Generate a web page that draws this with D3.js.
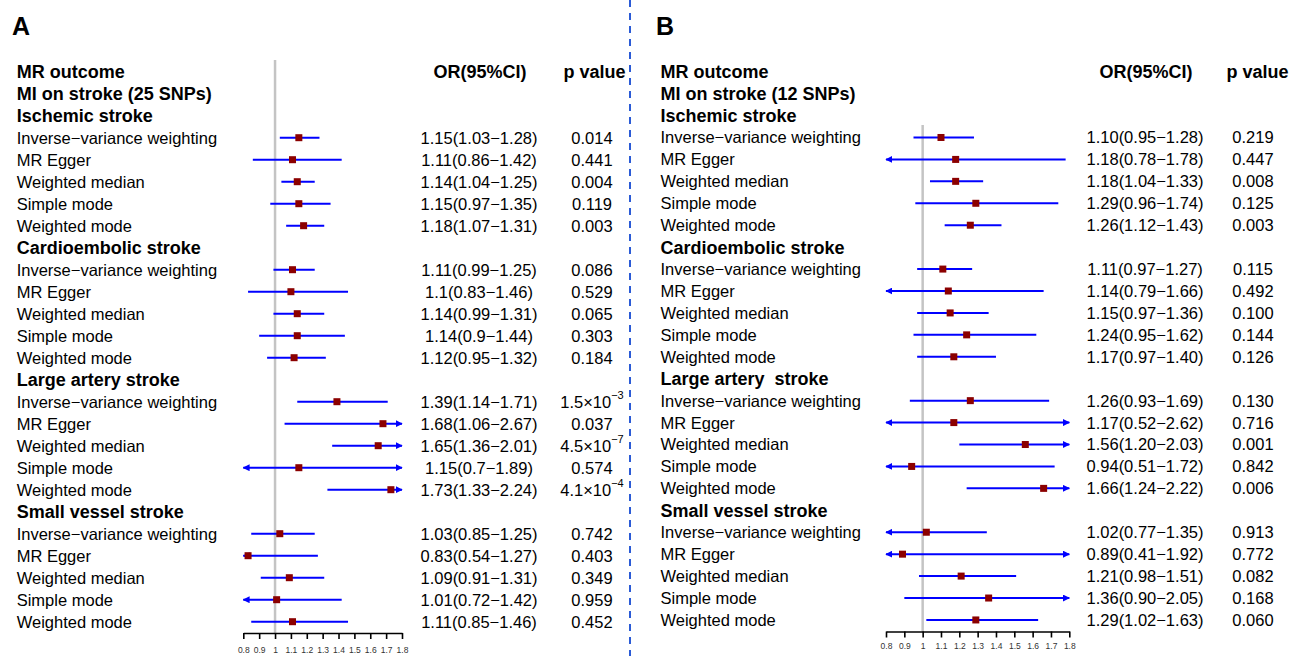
<!DOCTYPE html>
<html><head><meta charset="utf-8">
<script src="https://cdn.jsdelivr.net/npm/d3@7/dist/d3.min.js"></script>
<style>body{margin:0;background:#fff}svg{display:block}text{font-family:"Liberation Sans",Arial,sans-serif}</style>
</head><body><svg id="c" width="1295" height="656"></svg>
<script>
// ---------- data ----------
const methods = ["Inverse\u2212variance weighting","MR Egger","Weighted median","Simple mode","Weighted mode"];
const groupsA = ["Ischemic stroke","Cardioembolic stroke","Large artery stroke","Small vessel stroke"];
const groupsB = ["Ischemic stroke","Cardioembolic stroke","Large artery  stroke","Small vessel stroke"];
const tickValues = [0.8,0.9,1,1.1,1.2,1.3,1.4,1.5,1.6,1.7,1.8];
const tickLabels = ["0.8","0.9","1","1.1","1.2","1.3","1.4","1.5","1.6","1.7","1.8"];

const orA  = [1.15,1.11,1.14,1.15,1.18, 1.11,1.1,1.14,1.14,1.12, 1.39,1.68,1.65,1.15,1.73, 1.03,0.83,1.09,1.01,1.11];
const lowA = [1.03,0.86,1.04,0.97,1.07, 0.99,0.83,0.99,0.9,0.95, 1.14,1.06,1.36,0.7,1.33, 0.85,0.54,0.91,0.72,0.85];
const highA= [1.28,1.42,1.25,1.35,1.31, 1.25,1.46,1.31,1.44,1.32, 1.71,2.67,2.01,1.89,2.24, 1.25,1.27,1.31,1.42,1.46];
const pA   = ["0.014","0.441","0.004","0.119","0.003", "0.086","0.529","0.065","0.303","0.184",
              "1.5×10^−3","0.037","4.5×10^−7","0.574","4.1×10^−4", "0.742","0.403","0.349","0.959","0.452"];

const orB  = [1.10,1.18,1.18,1.29,1.26, 1.11,1.14,1.15,1.24,1.17, 1.26,1.17,1.56,0.94,1.66, 1.02,0.89,1.21,1.36,1.29];
const lowB = [0.95,0.78,1.04,0.96,1.12, 0.97,0.79,0.97,0.95,0.97, 0.93,0.52,1.20,0.51,1.24, 0.77,0.41,0.98,0.90,1.02];
const highB= [1.28,1.78,1.33,1.74,1.43, 1.27,1.66,1.36,1.62,1.40, 1.69,2.62,2.03,1.72,2.22, 1.35,1.92,1.51,2.05,1.63];
const pB   = ["0.219","0.447","0.008","0.125","0.003", "0.115","0.492","0.100","0.144","0.126",
              "0.130","0.716","0.001","0.842","0.006", "0.913","0.772","0.082","0.168","0.060"];

// ---------- drawing ----------
const svg = d3.select("#c");
svg.append("rect").attr("width",1295).attr("height",656).attr("fill","#fff");

const defs = svg.append("defs");
defs.append("marker").attr("id","arr").attr("viewBox","0 0 10 10").attr("refX",9).attr("refY",5)
  .attr("markerWidth",7).attr("markerHeight",7).attr("markerUnits","userSpaceOnUse").attr("orient","auto-start-reverse")
  .append("path").attr("d","M0,0 L10,5 L0,10 Z").attr("fill","#0000ff");

// divider
svg.append("line").attr("x1",630).attr("x2",630).attr("y1",0).attr("y2",656)
  .attr("stroke","#2b5bd6").attr("stroke-width",2).attr("stroke-dasharray","7,6");

function panel(cfg){
  const g = svg.append("g");
  const x = d3.scaleLinear().domain([0.8,1.8]).range(cfg.range);
  const yRow = i => cfg.y0 + i*cfg.step;
  const F = 16.5, FB = 18;
  // letter
  g.append("text").attr("x",cfg.letterX).attr("y",35).attr("font-size",25).attr("font-weight","bold").text(cfg.letter);
  // headers
  g.append("text").attr("x",cfg.labelX).attr("y",yRow(0)).attr("dy","0.36em").attr("font-size",FB).attr("font-weight","bold").text("MR outcome");
  g.append("text").attr("x",cfg.labelX).attr("y",yRow(1)).attr("dy","0.36em").attr("font-size",FB).attr("font-weight","bold").text(cfg.title);
  g.append("text").attr("x",cfg.orX+1).attr("y",yRow(0)).attr("dy","0.36em").attr("font-size",FB).attr("font-weight","bold").attr("text-anchor","middle").text("OR(95%CI)");
  g.append("text").attr("x",cfg.pHX).attr("y",yRow(0)).attr("dy","0.36em").attr("font-size",FB).attr("font-weight","bold").attr("text-anchor","middle").text("p value");

  // reference line
  g.append("line").attr("x1",x(1)).attr("x2",x(1)).attr("y1",cfg.refTop).attr("y2",cfg.axisY)
    .attr("stroke","#c4c4c4").attr("stroke-width",2.5);

  const rows = [];
  cfg.groups.forEach((gr,gi)=>{
    const base = 2 + gi*6;
    g.append("text").attr("x",cfg.labelX).attr("y",yRow(base)).attr("dy","0.36em").attr("font-size",FB).attr("font-weight","bold")
      .style("white-space","pre").attr("xml:space","preserve").text(gr);
    methods.forEach((m,mi)=>{
      const k = gi*5+mi;
      rows.push({line: base+1+mi, m, or: cfg.or[k], lo: cfg.lo[k], hi: cfg.hi[k], p: cfg.p[k]});
    });
  });

  rows.forEach(r=>{
    const y = yRow(r.line);
    g.append("text").attr("x",cfg.labelX).attr("y",y).attr("dy","0.36em").attr("font-size",F).text(r.m);
    const lo = Math.max(0.8,r.lo), hi = Math.min(1.8,r.hi);
    const ln = g.append("line").attr("x1",x(lo)).attr("x2",x(hi)).attr("y1",y).attr("y2",y)
      .attr("stroke","#0000ff").attr("stroke-width",2);
    if (r.lo < 0.8) ln.attr("marker-start","url(#arr)");
    if (r.hi > 1.8) ln.attr("marker-end","url(#arr)");
    g.append("rect").attr("x",x(r.or)-3.5).attr("y",y-3.5).attr("width",7).attr("height",7).attr("fill","#8b0000");
    g.append("text").attr("x",cfg.orX).attr("y",y).attr("dy","0.36em").attr("font-size",F).attr("text-anchor","middle")
      .text(cfg.fmt(r.or)+"("+cfg.fmt(r.lo)+"\u2212"+cfg.fmt(r.hi)+")");
    const pt = g.append("text").attr("x",cfg.pX).attr("y",y).attr("dy","0.36em").attr("font-size",F).attr("text-anchor","middle");
    if (r.p.includes("^")){
      const [b,e] = r.p.split("^");
      pt.append("tspan").text(b);
      pt.append("tspan").attr("font-size",11).attr("dy","-0.75em").text(e);
    } else pt.text(r.p);
  });

  // axis
  const ax = d3.axisBottom(x).tickValues(tickValues).tickSize(6).tickSizeOuter(0)
    .tickFormat((d,i)=>tickLabels[i]);
  const ag = g.append("g").attr("transform",`translate(0,${cfg.axisY})`).call(ax);
  ag.select(".domain").attr("stroke","#000").attr("stroke-width",1.6);
  ag.selectAll(".tick line").attr("stroke","#000").attr("stroke-width",1.6);
  ag.selectAll(".tick text").attr("font-size",8.5).attr("fill","#333").attr("dy",cfg.tickDy)
    .attr("font-family","'Liberation Sans',Arial,sans-serif");
}

panel({letter:"A", letterX:12, labelX:16.7, title:"MI on stroke (25 SNPs)", groups:groupsA,
  or:orA, lo:lowA, hi:highA, p:pA, range:[243.3,402], y0:71.7, step:22,
  orX:479, pX:592, pHX:594.5, refTop:60, axisY:633, tickDy:"1.35em", fmt:v=>String(v)});
panel({letter:"B", letterX:656, labelX:660.5, title:"MI on stroke (12 SNPs)", groups:groupsB,
  or:orB, lo:lowB, hi:highB, p:pB, range:[886,1069.3], y0:71.7, step:21.93,
  orX:1145, pX:1253, pHX:1257.5, refTop:125, axisY:631.5, tickDy:"0.95em", fmt:v=>v.toFixed(2)});
</script></body></html>
